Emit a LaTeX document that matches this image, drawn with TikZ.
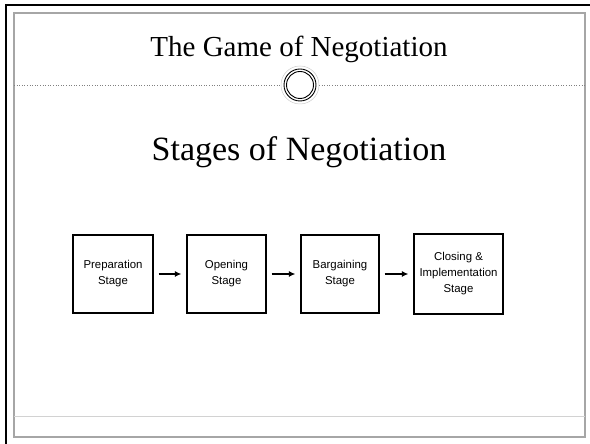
\documentclass[tikz,border=0pt]{standalone}
\usepackage{fontspec}
\setmainfont{Liberation Serif}
\setsansfont{Liberation Sans}
\usetikzlibrary{arrows.meta}

\begin{document}
\begin{tikzpicture}[x=1pt,y=1pt,
  stagebox/.style={draw,line width=1.2pt,minimum height=78pt,align=center,inner sep=1pt,
    font=\sffamily\fontsize{11.4}{16}\selectfont},
  stagearrow/.style={-{Latex[length=6.5pt,width=6pt]},line width=1.2pt,shorten <=5pt,shorten >=5pt}]
\useasboundingbox (0,0) rectangle (590,444);
% slide frame
\draw[line width=2.4pt] (6,0) -- (6,439) -- (590,439);
\draw[gray!70,line width=1.2pt] (14,7) rectangle (585,431);
\draw[gray!35,line width=0.8pt] (14,28) -- (585,28);
% title bar
\node[font=\fontsize{29}{34}\selectfont,anchor=base] (title) at (299,387) {The Game of Negotiation};
\coordinate (ring) at (300,359);
\draw[gray,dotted,line width=0.6pt] (14,359) -- (281,359);
\draw[gray,dotted,line width=0.6pt] (319,359) -- (585,359);
\draw[gray!40,line width=0.5pt] (ring) circle (19);
\draw[line width=0.9pt] (ring) circle (16);
\draw[line width=0.9pt] (ring) circle (13.5);
\node[font=\fontsize{34}{40}\selectfont,anchor=base] (sub) at (299,283) {Stages of Negotiation};
% stages
\node[stagebox,minimum width=80pt] (prep) at (113,170) {Preparation\\Stage};
\node[stagebox,minimum width=79pt] (open) at (226.5,170) {Opening\\Stage};
\node[stagebox,minimum width=78pt] (barg) at (340,170) {Bargaining\\Stage};
\node[stagebox,minimum width=89pt,minimum height=80pt] (close) at (458.5,170) {Closing \&\\Implementation\\Stage};
\draw[stagearrow] (prep) -- (open);
\draw[stagearrow] (open) -- (barg);
\draw[stagearrow] (barg) -- (close);
\end{tikzpicture}
\end{document}
